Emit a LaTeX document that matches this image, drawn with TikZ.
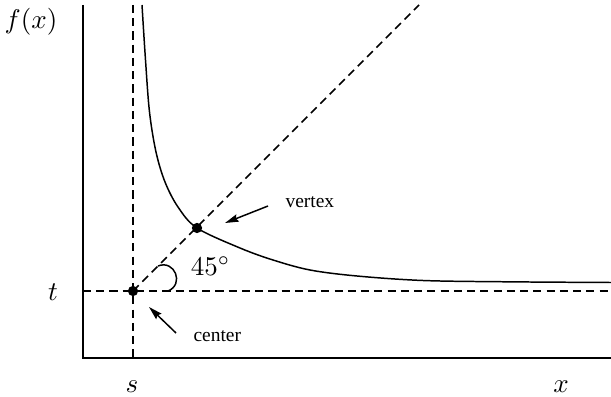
\documentclass[tikz,border=0pt]{standalone}
\usepackage{fontspec}
\newfontfamily\lblfont{Liberation Serif}
\usetikzlibrary{arrows.meta}
\begin{document}
\begin{tikzpicture}[x=0.37pt,y=-0.37pt,
  axis/.style={line width=0.7pt},
  guide/.style={line width=0.55pt,dash pattern=on 3pt off 1.9pt},
  curve/.style={line width=0.55pt},
  pt/.style={circle,fill,inner sep=0pt,minimum size=3.8pt},
  ptr/.style={line width=0.55pt,-{Stealth[length=5pt,width=2.8pt,inset=0.6pt]}},
  txt/.style={font=\lblfont\fontsize{7.2}{8}\selectfont,inner sep=0pt},
  mlbl/.style={inner sep=0pt,anchor=base}]
\useasboundingbox (0,0) rectangle (611,396);
% axes
\coordinate (ytop) at (83,5);
\coordinate (orig) at (83,358);
\coordinate (xend) at (611,358);
\draw[axis] (ytop) -- (orig) -- (xend);
% guides
\coordinate (cc) at (133,291);
\coordinate (vv) at (197,228);
\coordinate (stop) at (133,5);
\coordinate (sbot) at (133,358);
\coordinate (tl) at (83,291);
\coordinate (tr) at (611,291);
\coordinate (dtop) at (419,5);
\draw[guide] (stop) -- (sbot);
\draw[guide] (tl) -- (tr);
\draw[guide] (cc) -- (dtop);
% curve
\draw[curve] plot[smooth,tension=0.55] coordinates {(142,5) (145.5,60) (149.5,112) (156,152) (165,182) (178,207) (197,228) (240,248) (273,260) (310,270) (357,276) (423,280.5) (507,281.8) (611,282.5)};
% angle mark
\draw[curve] (158,266) .. controls (174.7,259.3) and (184.7,284.3) .. (168,291);
% points
\node[pt] (c) at (cc) {};
\node[pt] (v) at (vv) {};
% labels
\node[mlbl] (fx) at (31,29) {$f(x)$};
\node[mlbl] (tlbl) at (53,300) {$t$};
\node[mlbl] (slbl) at (132,392) {$s$};
\node[mlbl] (xlbl) at (561,392) {$x$};
\node[mlbl] (ang) at (210.5,275) {$45^\circ$};
\node[txt,anchor=base west] (vlbl) at (285,207) {vertex};
\node[txt,anchor=base west] (clbl) at (193,341.7) {center};
% pointers
\coordinate (vtail) at (268,206);
\coordinate (vtip) at (225,223);
\coordinate (ctail) at (176,333);
\coordinate (ctip) at (149,307);
\draw[ptr] (vtail) -- (vtip);
\draw[ptr] (ctail) -- (ctip);
\end{tikzpicture}
\end{document}
